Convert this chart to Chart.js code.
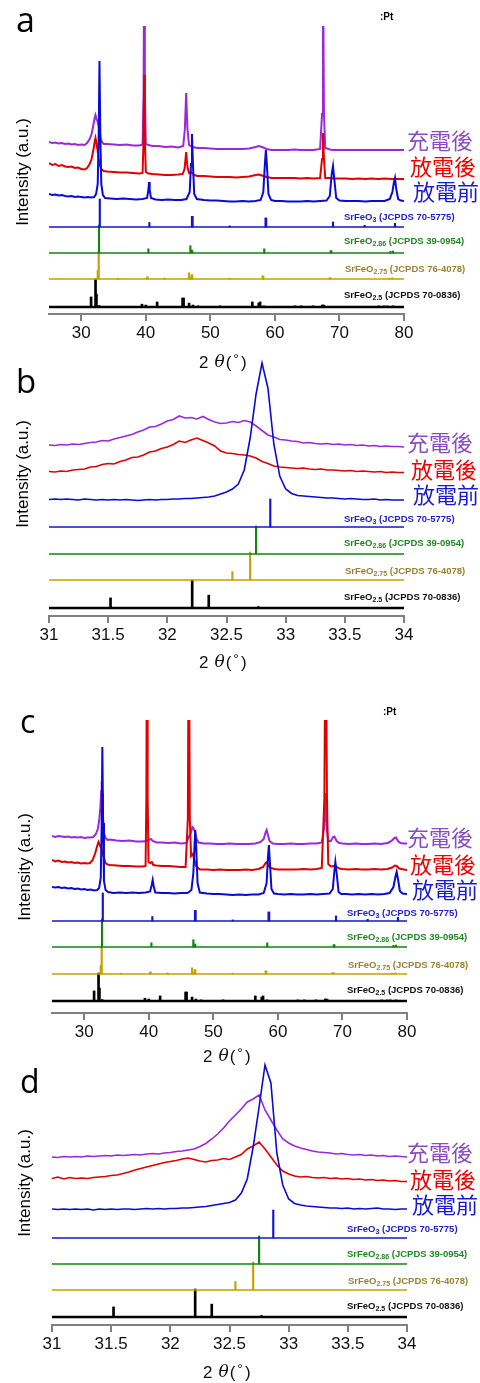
<!DOCTYPE html>
<html>
<head>
<meta charset="utf-8">
<script src="https://cdn.jsdelivr.net/npm/chart.js@4.4.1/dist/chart.umd.min.js"></script>
<style>
  body { margin: 0; background: #fff; }
  #fig { position: relative; width: 480px; height: 1383px; overflow: hidden; }
  #fig canvas { position: absolute; left: 0; }
</style>
</head>
<body>
<div id="fig">
  <canvas id="panelA" width="480" height="375" style="top:0px"></canvas>
  <canvas id="panelB" width="480" height="345" style="top:340px"></canvas>
  <canvas id="panelC" width="480" height="385" style="top:690px"></canvas>
  <canvas id="panelD" width="480" height="338" style="top:1045px"></canvas>
</div>
<script>
// XRD patterns, intensities in a.u. above each trace's own offset
const SERIES_NAMES = ['充電後', '放電後', '放電前'];
const REF_SUBS = ['3', '2.86', '2.75', '2.5'];
const REF_CARDS = ['JCPDS 70-5775', 'JCPDS 39-0954', 'JCPDS 76-4078', 'JCPDS 70-0836'];
const TICKS_WIDE = [30, 40, 50, 60, 70, 80];
const TICKS_ZOOM = [31, 31.5, 32, 32.5, 33, 33.5, 34];

// panel a: charged / discharged / pristine, 25-80 deg
const PURPLE_A = [[25,12],[25.5,11],[26,11.5],[26.5,10.5],[27,11],[27.5,10],[28,10.5],[28.5,9.5],[29,10],[29.5,9],[30,9.5],[30.5,9],[30.9,11],[31.3,15],[31.6,20],[31.9,30],[32.1,37],[32.2,39],[32.35,35],[32.5,33],[32.6,31],[32.8,24],[33,15],[33.2,12],[33.5,10],[34,10],[35,9.5],[36,9],[37,9.5],[38,8.5],[39,8.5],[39.5,9.5],[39.65,60],[39.75,200],[39.85,60],[40,10],[40.4,9],[41,8],[42,8],[43,7],[44,7.5],[45,6.5],[45.8,8],[46.05,25],[46.25,61],[46.45,25],[46.7,9],[47.2,7],[48,6],[49,6],[50,5.5],[51,5],[52,5],[53,5],[54,5],[55,5],[56,5.5],[57,7],[57.5,8],[58,7],[58.7,5],[59.5,4],[60,4],[61,4],[62,4],[63,4.5],[64,4],[65,4],[66,4],[67,5],[67.3,40],[67.45,200],[67.6,40],[67.8,6],[68.5,4.5],[69,4],[70,4],[71,4],[72,4],[73,4],[74,4],[75,4],[76,4],[77,4],[78,4],[79,4],[80,4]];
const RED_A = [[25,16],[25.5,14],[26,15],[26.5,13],[27,14],[27.5,12.5],[28,12],[28.5,12.5],[29,11],[29.5,11.5],[30,10],[30.5,9.5],[30.9,11],[31.3,15],[31.6,20],[31.9,30],[32.1,38],[32.2,41],[32.35,36],[32.5,30],[32.7,20],[32.9,13],[33.2,9],[33.5,8],[34,7.5],[35,7],[36,6.5],[37,6.5],[38,6],[39,5.5],[39.5,6],[39.65,40],[39.75,104],[39.85,40],[40,7],[40.4,5.5],[41,5],[42,4.5],[43,4],[44,4],[45,4.5],[45.7,5],[46,10],[46.25,27],[46.45,12],[46.7,6],[47,7],[47.5,4],[48,3],[49,3],[50,2.5],[51,2],[52,2],[53,2],[54,1.5],[55,2],[56,2.5],[57,4],[57.5,4.5],[58,3.5],[58.7,2],[59.5,1],[60,1],[61,1],[62,1],[63,1],[64,0.5],[65,1],[66,0.5],[67,1],[67.3,20],[67.45,46],[67.6,20],[67.8,1],[68.5,1],[69,0.5],[70,0.5],[71,0.5],[72,0],[73,0.5],[74,0],[75,0.5],[76,0],[77,0.5],[78,0],[79,0],[80,0]];
const BLUE_A = [[25,10],[25.5,9],[26,9.5],[26.5,8.5],[27,9],[27.5,8],[28,7.5],[28.5,8],[29,7],[29.5,7.5],[30,7],[30.5,6.5],[31,7],[31.5,6.5],[32,7],[32.3,10],[32.55,20],[32.7,70],[32.82,143],[32.95,70],[33.1,20],[33.35,9],[33.7,6],[34.5,5.5],[35.5,5],[36.5,5.5],[37.5,5],[38.5,4.5],[39.5,5],[40.2,6],[40.4,14],[40.5,22],[40.6,14],[40.8,6],[41.5,4.5],[42.5,4],[43.5,4.5],[44.5,4],[45.5,4],[46.3,5],[46.8,12],[47,40],[47.15,70],[47.3,40],[47.5,10],[47.9,5],[49,4],[50,3.5],[51,3.5],[52,3],[53,2.5],[54,2.5],[55,3],[56,2.5],[57,3],[57.8,4],[58.2,12],[58.45,40],[58.6,54],[58.75,40],[59,10],[59.4,4],[60,3],[61,3],[62,2.5],[63,2.5],[64,2.5],[65,3],[66,2.5],[67,3],[68,3.5],[68.5,8],[68.8,30],[69,38],[69.2,25],[69.5,6],[70,3.5],[71,3],[72,3],[73,3],[74,2.5],[75,3],[76,3],[77,3],[77.8,5],[78.2,12],[78.45,22],[78.6,26],[78.8,15],[79.1,5],[79.5,3.5],[80,3]];

// panel c: second cell, 25-80 deg
const PURPLE_C = [[25,17],[25.5,16],[26,17],[26.5,16.5],[27,16],[27.5,16.5],[28,15.5],[28.5,16],[29,15.5],[29.5,16],[30,15],[30.5,15.5],[31,15.5],[31.4,16],[31.8,19],[32.1,24],[32.3,32],[32.5,46],[32.62,62],[32.7,72],[32.78,60],[32.9,35],[33.05,20],[33.3,15],[33.6,13],[34,13.5],[35,12.5],[36,12],[37,12.5],[38,11.5],[39,11.5],[39.6,12],[39.9,13],[40.3,14],[40.6,12],[41.2,10.5],[42,10.5],[43,10],[44,10.5],[45,9.5],[45.8,10],[46.2,16],[46.5,20],[46.75,26],[46.9,25],[47.1,22],[47.4,14],[47.7,10.5],[48.5,9.5],[49.5,9.5],[50.5,9],[51.5,9],[52.5,9.5],[53.5,9],[54.5,9],[55.5,9],[56.5,9.5],[57.3,11],[57.8,14],[58.1,21],[58.25,23],[58.45,18],[58.7,12],[59.2,9.5],[60,9],[61,9],[62,9.5],[63,9],[64,9],[65,9.5],[66,9.5],[66.8,10.5],[67.15,25],[67.35,60],[67.55,25],[67.8,12],[68.2,12],[68.55,16],[68.75,16.5],[69.1,12],[69.5,10],[70,9.5],[71,9],[72,9.5],[73,9],[74,9],[75,9.5],[76,9],[77,10],[77.6,12],[78.05,15],[78.3,15.5],[78.6,12],[79,10],[79.5,9.5],[80,9.5]];
const RED_C = [[25,18],[25.5,16.5],[26,17.5],[26.5,16],[27,16.5],[27.5,15.5],[28,16],[28.5,15],[29,15.5],[29.5,14.5],[30,15],[30.5,14.5],[30.9,15],[31.3,18],[31.7,25],[32,32],[32.2,36],[32.4,33],[32.6,30],[32.8,26],[33,21],[33.3,15],[33.6,13.5],[34,13],[35,12.5],[36,12],[37,12],[38,11.5],[39,11.5],[39.5,12],[39.62,80],[39.72,300],[39.82,80],[39.95,16],[40.2,15],[40.45,16],[40.7,13],[41.2,12.5],[42,12],[43,12],[44,11.5],[45,11],[45.7,11],[46.05,60],[46.2,300],[46.35,60],[46.55,22],[46.8,24],[47,20],[47.3,12],[47.9,8.5],[49,8.5],[50,8],[51,8.5],[52,8],[53,8],[54,8],[55,8.5],[56,8],[57,9],[57.7,11],[58.1,15],[58.3,16],[58.55,12],[58.9,10],[59.5,9],[60,8.5],[61,8.5],[62,8.5],[63,8.5],[64,9],[65,8.5],[66,9],[66.8,10],[67.2,80],[67.4,300],[67.6,80],[67.8,14],[68.2,11.5],[68.6,12],[69,11.5],[69.5,9.5],[70,9],[71,8.5],[72,9],[73,8.5],[74,8.5],[75,9],[76,8.5],[77,9],[77.7,10.5],[78.1,12.5],[78.4,12],[78.8,9.5],[79.5,8.5],[80,8]];
const BLUE_C = [[25,16],[25.5,15.5],[26,16],[26.5,15],[27,15.5],[27.5,14.5],[28,15],[28.5,14],[29,14.5],[29.5,13.5],[30,14],[30.5,13],[31,13.5],[31.5,12.5],[32,13],[32.3,15],[32.55,25],[32.7,80],[32.8,156],[32.92,80],[33.05,22],[33.3,13],[33.7,11],[34.5,10],[35.5,10.5],[36.5,10],[37.5,10.5],[38.5,10],[39.5,10.5],[40.2,11.5],[40.45,18],[40.6,23],[40.75,17],[41,10.5],[42,10],[43,10],[44,9.5],[45,10],[46,10],[46.6,13],[46.9,30],[47.1,60],[47.2,73],[47.35,55],[47.55,20],[47.9,10.5],[49,9.5],[50,9],[51,9],[52,8.5],[53,8],[54,8.5],[55,8],[56,8.5],[57,8.5],[57.8,10],[58.25,20],[58.45,45],[58.6,58],[58.75,42],[59,14],[59.4,9.5],[60,9],[61,8.5],[62,9],[63,8.5],[64,8.5],[65,9],[66,8.5],[67,9],[68,9.5],[68.5,14],[68.75,32],[68.9,41],[69.1,30],[69.4,11],[69.8,9],[70.5,9],[71.5,8.5],[72.5,9],[73.5,8.5],[74.5,9],[75.5,8.5],[76.5,9],[77.3,10],[77.9,16],[78.2,26],[78.4,31],[78.6,24],[78.9,12],[79.3,9.5],[80,9]];

// panels b and d: 31-34 deg, sampled every 0.05 deg
const THETA_ZOOM = [31,31.05,31.1,31.15,31.2,31.25,31.3,31.35,31.4,31.45,31.5,31.55,31.6,31.65,31.7,31.75,31.8,31.85,31.9,31.95,32,32.05,32.1,32.15,32.2,32.25,32.3,32.35,32.4,32.45,32.5,32.55,32.6,32.65,32.7,32.75,32.8,32.85,32.9,32.95,33,33.05,33.1,33.15,33.2,33.25,33.3,33.35,33.4,33.45,33.5,33.55,33.6,33.65,33.7,33.75,33.8,33.85,33.9,33.95,34];
const PURPLE_B = [11,10.5,11.5,11,12,11.5,12.5,13.5,14,15.5,15,17,18.5,20,21.5,24,26,29,29.5,32,35,36.5,40,38,38.5,37,39.5,36.5,34,32.5,33,34.5,33.5,35.5,34,30,25.5,21,19,16.5,16,15,14.5,13,13.5,12.5,12,12.5,11.5,12,11,11.5,10.5,11,10,10.5,9.5,10,9.5,9.5,9];
const RED_B = [9.5,9,10,9.5,11,11.5,12,14,14.5,16.5,17.5,17,19.5,21,23.5,24,26,29,30,32.5,34,36.5,40,38.5,41,43,40.5,38,35,30,28,27.5,26.5,26,25,23,19.5,17.5,15,14,13.5,13,12.5,13,12,11.5,12,11,11,10.5,10,10.5,9.5,10,9.5,9,9.5,8.5,9,8.5,8.5];
const BLUE_B = [6.5,7,6.5,7,6.5,6,7,6.5,6,6.5,6,6.5,6,6.5,6,5.5,6,6.5,6,6.5,6.5,7,7,7.5,7.5,8,8.5,9,10,12,14,17,22,36,68,112,143,118,62,30,17,12.5,10.5,10,9.5,9,8.5,8,8,7.5,7,7.5,7,6.5,6.5,7,6,6.5,6,6,6];
const PURPLE_D = [8,7.5,8.5,8,8.5,8,9,8.5,9,9.5,9,10,9.5,10,10.5,10,11,11.5,11,12,12.5,13.5,14,15,16,18.5,21.5,26,31,37,44,50,56,63,66,70,55,45,35,26,22,19,17,15.5,14,13,12.5,12,11,11.5,10.5,10,10.5,9.5,10,9,9.5,8.5,9,8.5,8];
const RED_D = [11.5,13,11,12.5,11.5,12,11.5,12.5,13,13.5,14.5,15,16.5,18,20,21.5,23,24.5,26,27.5,28.5,29.5,31,32,30.5,29,28,29.5,30,31.5,30.5,33,35.5,41,44,48,41,33,25,19,16,14,13,13.5,12.5,12,12.5,11.5,12,11,11.5,10.5,11,10,10.5,9.5,10,9,9.5,8.5,8.5];
const BLUE_D = [6,5.5,6,5.5,6,5.5,6,5,6,5.5,6,5.5,6,6,5.5,6,6.5,6,6.5,6,6.5,6.5,7,7,7.5,8,8.5,9.5,10.5,11.5,12.5,15,22,36,68,108,150,132,62,30,16,11.5,10,9,8.5,8,7.5,7,7,6.5,7,6,6.5,6,6.5,7,6,6,5.5,6,6];

// reference cards: [2theta, relative intensity %]
const REF_SRFEO3 = [[32.87,100],[40.55,16],[47.15,38],[47.25,38],[53.0,4],[58.55,32],[58.65,32],[69.0,18],[73.9,6],[78.6,13]];
const REF_SRFEO286 = [[32.75,100],[40.4,15],[46.9,26],[47.1,11],[47.2,8],[58.35,15],[68.65,8],[68.75,8],[77.9,6],[78.3,7]];
const REF_SRFEO275 = [[32.55,30],[32.7,100],[35.7,3],[40.2,7],[40.3,7],[42.9,4],[46.7,22],[46.85,5],[47.1,15],[47.2,15],[53.0,3],[58.1,11],[58.2,11],[68.5,5],[68.6,4],[77.7,3],[78.2,4]];
const REF_SRFEO25 = [[31.52,36],[32.21,100],[32.35,46],[32.77,5],[39.4,10],[40.0,7],[41.75,18],[45.7,32],[45.85,32],[46.7,14],[47.3,7],[48.1,4],[51.5,4],[56.5,18],[57.5,14],[57.7,18],[58.3,4],[63.1,4],[64.1,4],[65.9,4],[67.35,7],[67.5,7],[67.65,5],[76.1,4],[76.9,4],[77.4,4],[78.3,4]];

// styling / layout
const TRACE_COLORS = ['#9b28dc', '#e00000', '#0a0ad6'];
const NAME_COLORS = ['#8a4cc2', '#ec0000', '#1a1ad0'];
const REF_COLORS = ['#1414d0', '#118411', '#c4a000', '#000000'];
const REF_TEXT_COLORS = ['#2222cc', '#1e8a1e', '#9c8232', '#111111'];
const REF_WIDTHS = [1.5, 1.5, 1.5, 2.5];
const STICK_WIDTHS = [1.5, 1.5, 1.5, 2];
const TRACE_OFFSETS = [160, 135, 110];
const STICK_SCALE = 0.28;
const REFS = [REF_SRFEO3, REF_SRFEO286, REF_SRFEO275, REF_SRFEO25];

function zoomPoints(ys) {
  return THETA_ZOOM.map((t, i) => [t, ys[i]]);
}

const PANELS = [
  { id: 'panelA', top: 0, pad: { left: 49, right: 76, top: 26, bottom: 31 }, yMax: 288, lw: 2,
    xMin: 25, xMax: 80, ticks: TICKS_WIDE, traces: [PURPLE_A, RED_A, BLUE_A], refBase: [87, 61, 35, 7],
    letter: ['a', 16, 32, 34], yTitle: [23, 172], names: [[407, 141], [410, 167], [413, 192]],
    refText: [[344, 217], [344, 241], [345, 269], [344, 295]], xTitle: [199, 363], pt: [380, 17] },
  { id: 'panelB', top: 340, pad: { left: 49, right: 76, top: 10, bottom: 39 }, yMax: 266, lw: 1.6,
    xMin: 31, xMax: 34, ticks: TICKS_ZOOM, traces: [zoomPoints(PURPLE_B), zoomPoints(RED_B), zoomPoints(BLUE_B)], refBase: [89, 62, 36, 8],
    letter: ['b', 16, 393, 33], yTitle: [23, 474], names: [[407, 443], [411, 470], [413, 495]],
    refText: [[344, 519], [344, 543], [345, 571], [344, 597]], xTitle: [199, 663], pt: null },
  { id: 'panelC', top: 690, pad: { left: 52, right: 73, top: 30, bottom: 32 }, yMax: 293, lw: 2,
    xMin: 25, xMax: 80, ticks: TICKS_WIDE, traces: [PURPLE_C, RED_C, BLUE_C], refBase: [92, 66, 39, 12],
    letter: ['c', 20, 733, 32], yTitle: [25, 867], names: [[407, 838], [410, 865], [412, 890]],
    refText: [[347, 913], [347, 937], [348, 965], [347, 990]], xTitle: [203, 1057], pt: [383, 712] },
  { id: 'panelD', top: 1045, pad: { left: 52, right: 73, top: 10, bottom: 28 }, yMax: 270, lw: 1.6,
    xMin: 31, xMax: 34, ticks: TICKS_ZOOM, traces: [zoomPoints(PURPLE_D), zoomPoints(RED_D), zoomPoints(BLUE_D)], refBase: [87, 61, 35, 8],
    letter: ['d', 20, 1093, 32], yTitle: [25, 1183], names: [[407, 1153], [410, 1180], [412, 1205]],
    refText: [[347, 1229], [347, 1254], [348, 1281], [347, 1306]], xTitle: [203, 1373], pt: null }
];

const textPlugin = {
  id: 'panelText',
  afterDraw(chart, args, p) {
    const ctx = chart.ctx;
    const oy = p.top;
    ctx.save();
    ctx.textAlign = 'left';

    // panel letter
    ctx.fillStyle = '#000';
    ctx.textBaseline = 'alphabetic';
    ctx.font = p.letter[3] + 'px "Open Sans"';
    ctx.fillText(p.letter[0], p.letter[1], p.letter[2] - oy);

    // y axis title
    ctx.save();
    ctx.translate(p.yTitle[0], p.yTitle[1] - oy);
    ctx.rotate(-Math.PI / 2);
    ctx.textAlign = 'center';
    ctx.textBaseline = 'middle';
    ctx.font = '17px "Liberation Sans"';
    ctx.fillStyle = '#000';
    ctx.fillText('Intensity (a.u.)', 0, 0);
    ctx.restore();

    // series names
    ctx.textBaseline = 'middle';
    ctx.font = '22px "Noto Sans CJK TC"';
    SERIES_NAMES.forEach((n, i) => {
      ctx.fillStyle = NAME_COLORS[i];
      ctx.fillText(n, p.names[i][0], p.names[i][1] - oy);
    });

    // reference card labels
    REF_SUBS.forEach((sub, i) => {
      const x = p.refText[i][0], y = p.refText[i][1] - oy;
      ctx.fillStyle = REF_TEXT_COLORS[i];
      ctx.font = 'bold 9.5px "Liberation Sans"';
      ctx.fillText('SrFeO', x, y);
      let w = ctx.measureText('SrFeO').width;
      ctx.font = 'bold 7px "Liberation Sans"';
      ctx.fillText(sub, x + w, y + 3.5);
      w += ctx.measureText(sub).width;
      ctx.font = 'bold 9.5px "Liberation Sans"';
      ctx.fillText(' (' + REF_CARDS[i] + ')', x + w, y);
    });

    // x axis title: 2 theta (deg)
    let cx = p.xTitle[0];
    const ty = p.xTitle[1] - oy;
    ctx.fillStyle = '#111';
    ctx.font = '17px "Liberation Sans"';
    ctx.fillText('2', cx, ty);
    cx += ctx.measureText('2').width + 6;
    ctx.font = 'italic 17px "DejaVu Serif"';
    ctx.fillText('θ', cx, ty);
    cx += ctx.measureText('θ').width + 1;
    ctx.font = '17px "Liberation Sans"';
    ctx.fillText('(', cx, ty);
    cx += ctx.measureText('(').width + 2;
    ctx.font = '14px "Liberation Sans"';
    ctx.fillText('°', cx, ty - 3);
    cx += ctx.measureText('°').width + 2;
    ctx.font = '17px "Liberation Sans"';
    ctx.fillText(')', cx, ty);

    if (p.pt) {
      ctx.font = 'bold 10px "Liberation Sans"';
      ctx.fillStyle = '#000';
      ctx.fillText(':Pt', p.pt[0], p.pt[1] - oy);
    }
    ctx.restore();
  }
};

function buildDatasets(p) {
  const sets = [];
  // blue first so it is painted on top
  [2, 1, 0].forEach(i => {
    sets.push({
      type: 'line',
      data: p.traces[i].map(d => ({ x: d[0], y: d[1] + TRACE_OFFSETS[i] })),
      borderColor: TRACE_COLORS[i],
      borderWidth: p.lw,
      pointRadius: 0,
      tension: 0
    });
  });
  REFS.forEach((ref, i) => {
    const base = p.refBase[i];
    sets.push({
      type: 'bar',
      data: ref.map(r => ({ x: r[0], y: [base, base + r[1] * STICK_SCALE] })),
      backgroundColor: REF_COLORS[i],
      barThickness: STICK_WIDTHS[i],
      grouped: false,
      borderWidth: 0
    });
    sets.push({
      type: 'line',
      data: [{ x: p.xMin, y: base }, { x: p.xMax, y: base }],
      borderColor: REF_COLORS[i],
      borderWidth: REF_WIDTHS[i],
      pointRadius: 0
    });
  });
  return sets;
}

PANELS.forEach(p => {
  new Chart(document.getElementById(p.id), {
    type: 'line',
    data: { datasets: buildDatasets(p) },
    options: {
      responsive: false,
      animation: false,
      events: [],
      layout: { padding: p.pad },
      plugins: { legend: { display: false }, tooltip: { enabled: false }, panelText: p },
      scales: {
        x: {
          type: 'linear', min: p.xMin, max: p.xMax, offset: false,
          afterBuildTicks: s => { s.ticks = p.ticks.map(v => ({ value: v })); },
          afterFit: s => { s.height = 30; },
          ticks: { autoSkip: false, maxRotation: 0, padding: 2, color: '#111',
                   font: { family: '"Liberation Sans"', size: 17 }, callback: v => String(v) },
          grid: { offset: false, drawOnChartArea: false, tickLength: 7, color: '#808080', lineWidth: 2 },
          border: { display: true, color: '#808080', width: 2 }
        },
        y: { type: 'linear', min: 0, max: p.yMax, display: false }
      }
    },
    plugins: [textPlugin]
  });
});
</script>
</body>
</html>
